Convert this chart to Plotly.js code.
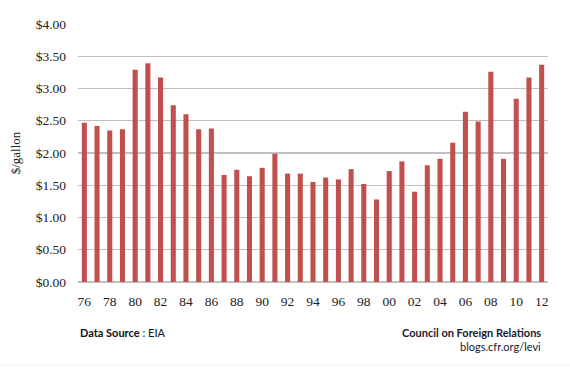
<!DOCTYPE html>
<html>
<head>
<meta charset="utf-8">
<script src="https://cdn.plot.ly/plotly-3.0.1.min.js"></script>
<style>html,body{margin:0;padding:0;background:#fff;}#chart{width:570px;height:368px;}</style>
</head>
<body>
<div id="chart"></div>
<script>
const years = ['76','77','78','79','80','81','82','83','84','85','86','87','88','89','90','91','92','93','94','95','96','97','98','99','00','01','02','03','04','05','06','07','08','09','10','11','12'];
const prices = [2.47,2.42,2.35,2.37,3.29,3.39,3.17,2.74,2.60,2.37,2.38,1.66,1.74,1.64,1.77,1.99,1.68,1.68,1.55,1.62,1.59,1.75,1.52,1.28,1.72,1.87,1.40,1.81,1.91,2.16,2.64,2.49,3.26,1.91,2.84,3.17,3.37];
const yTickVals = [0,0.5,1,1.5,2,2.5,3,3.5,4];
const yTickText = ['$0.00','$0.50','$1.00','$1.50','$2.00','$2.50','$3.00','$3.50','$4.00'];
const xTickVals = years.filter((y,i)=>i%2===0);

const serif = 'Liberation Serif, DejaVu Serif, serif';
const sans = 'Lato, Open Sans, sans-serif';

Plotly.newPlot('chart', [{
  type: 'bar',
  x: years,
  y: prices,
  marker: {color: '#c0504d'},
  hoverinfo: 'skip'
}], {
  width: 570, height: 368,
  margin: {l: 78, r: 22, t: 24, b: 86},
  paper_bgcolor: '#fff', plot_bgcolor: '#fff',
  bargap: 0.6,
  showlegend: false,
  xaxis: {
    type: 'category',
    tickvals: xTickVals,
    ticktext: xTickVals,
    showgrid: false, zeroline: false, showline: false,
    ticks: '', ticklabelstandoff: 9,
    tickfont: {family: serif, size: 13.5, color: '#222'}
  },
  yaxis: {
    range: [0, 4],
    tickvals: yTickVals,
    ticktext: yTickText,
    showgrid: true, gridcolor: '#c0c0c0', gridwidth: 1.3,
    zeroline: true, zerolinecolor: '#c0c0c0', zerolinewidth: 1.3,
    showline: false, ticks: '', ticklabelstandoff: 11,
    tickfont: {family: serif, size: 13.5, color: '#222'},
    title: {text: '$/gallon', font: {family: serif, size: 13, color: '#222'}, standoff: 12}
  },
  annotations: [
    {xref: 'paper', yref: 'paper', x: 0.0, y: -0.195, xanchor: 'left', yanchor: 'middle', showarrow: false,
     text: '<b>Data Source</b> : EIA', font: {family: sans, size: 11, color: '#111'}},
    {xref: 'paper', yref: 'paper', x: 0.99, y: -0.195, xanchor: 'right', yanchor: 'middle', showarrow: false,
     text: '<b>Council on Foreign Relations</b>', font: {family: sans, size: 11, color: '#1a1a2e'}},
    {xref: 'paper', yref: 'paper', x: 0.99, y: -0.25, xanchor: 'right', yanchor: 'middle', showarrow: false,
     text: 'blogs.cfr.org/levi', font: {family: sans, size: 11, color: '#1a1a2e'}}
  ],
  shapes: [
    {type: 'line', xref: 'paper', yref: 'paper', x0: -0.2, x1: 1.1, y0: -0.322, y1: -0.322,
     line: {color: '#eeeeee', width: 1}}
  ]
}, {staticPlot: true, displayModeBar: false});
</script>
</body>
</html>
